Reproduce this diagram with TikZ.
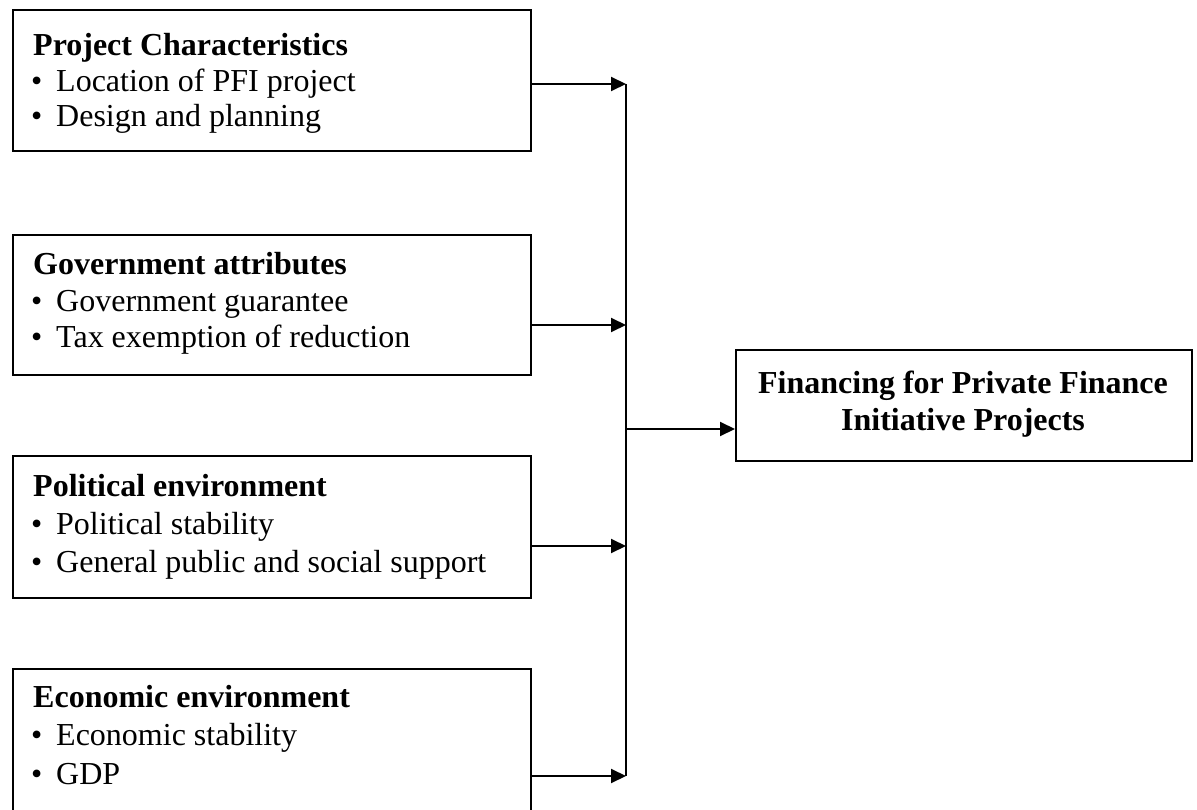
\documentclass[tikz,border=0pt]{standalone}
\usepackage{fontspec}
\setmainfont{Liberation Serif}
\usetikzlibrary{arrows.meta}
\tikzset{
  box/.style={draw=black, line width=2pt, minimum width=518pt, inner sep=0pt, anchor=north west},
  tbox/.style={draw=black, line width=2pt, minimum width=456pt, minimum height=111pt, inner sep=0pt, anchor=north west},
  txt/.style={anchor=base west, inner sep=0pt, font=\fontsize{32}{38}\selectfont},
  hd/.style={anchor=base west, inner sep=0pt, font=\fontsize{32}{38}\selectfont\bfseries},
  thd/.style={anchor=base, inner sep=0pt, font=\fontsize{32}{38}\selectfont\bfseries},
  arr/.style={line width=2pt, -{Triangle[length=15pt,width=14pt]}},
  ln/.style={line width=2pt}
}
\begin{document}
\begin{tikzpicture}[x=1pt,y=-1pt]
\useasboundingbox[fill=white] (0,0) rectangle (1197,810);
\clip (0,0) rectangle (1197,810);
% boxes
\node[box, minimum height=141pt] (b1) at (12,9) {};
\node[box, minimum height=140pt] (b2) at (12,234) {};
\node[box, minimum height=142pt] (b3) at (12,455) {};
\node[box, minimum height=170pt] (b4) at (12,668) {};
\node[tbox] (t) at (735,349) {};
% box 1
\node[hd] (b1h) at (33,56) {Project Characteristics};
\node[txt] (b1p) at (31,92) {\textbullet};
\node[txt] (b1a) at (56,92) {Location of PFI project};
\node[txt] (b1q) at (31,127) {\textbullet};
\node[txt] (b1b) at (56,127) {Design and planning};
% box 2
\node[hd] (b2h) at (33,275) {Government attributes};
\node[txt] (b2p) at (31,312) {\textbullet};
\node[txt] (b2a) at (56,312) {Government guarantee};
\node[txt] (b2q) at (31,348) {\textbullet};
\node[txt] (b2b) at (56,348) {Tax exemption of reduction};
% box 3
\node[hd] (b3h) at (33,496) {Political environment};
\node[txt] (b3p) at (31,534) {\textbullet};
\node[txt] (b3a) at (56,534) {Political stability};
\node[txt] (b3q) at (31,572) {\textbullet};
\node[txt] (b3b) at (56,572) {General public and social support};
% box 4
\node[hd] (b4h) at (33,707) {Economic environment};
\node[txt] (b4p) at (31,745) {\textbullet};
\node[txt] (b4a) at (56,745) {Economic stability};
\node[txt] (b4q) at (31,784) {\textbullet};
\node[txt] (b4b) at (56,784) {GDP};
% target text
\node[thd] (t1) at (963,393) {Financing for Private Finance};
\node[thd] (t2) at (963,430) {Initiative Projects};
% connectors
\coordinate (j1) at (626,84);
\coordinate (j2) at (626,325);
\coordinate (j3) at (626,546);
\coordinate (j4) at (626,776);
\coordinate (jm) at (626,429);
\draw[arr] (b1.east |- j1) -- (j1);
\draw[arr] (b2.east |- j2) -- (j2);
\draw[arr] (b3.east |- j3) -- (j3);
\draw[arr] (b4.east |- j4) -- (j4);
\draw[ln] (j1) -- (j4);
\draw[arr] (jm) -- (t.west |- jm);
\end{tikzpicture}
\end{document}
